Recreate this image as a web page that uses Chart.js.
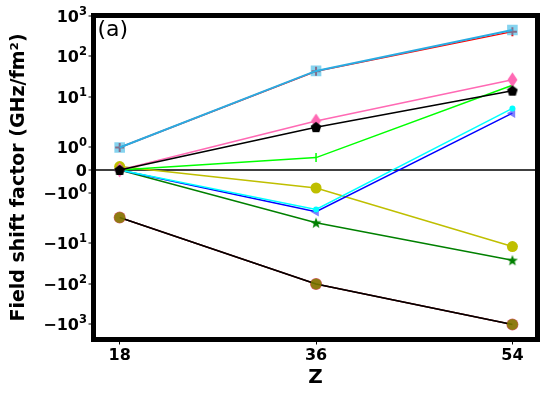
<!DOCTYPE html>
<html lang="en">
<head>
  <meta charset="UTF-8" />
  <title>Field shift factor vs Z</title>
  <script src="https://cdn.jsdelivr.net/npm/chart.js"></script>
  <style>
    body {
      margin: 0;
      background: #fff;
    }
    canvas {
      display: block;
    }
  </style>
</head>
<body>
  <canvas id="chartFsf" width="546" height="395"></canvas>

  <script>
    // Data
    const zValues = [18, 36, 54];
    const redSeries = [1, 42, 400];
    const skyBlueSeries = [1, 43, 440];
    const pinkSeries = [0, 2.5, 26];
    const blackSeries = [0, 1.9, 14];
    const limeSeries = [0, 0.55, 19];
    const cyanSeries = [0, -1.75, 5.1];
    const blueSeries = [0, -1.85, 3.9];
    const oliveSeries = [0.15, -0.8, -12];
    const greenSeries = [0, -3.1, -26];
    const maroonSeries = [-2.3, -100, -1000];
    const darkSeries = [-2.3, -100, -1000];

    // tick labels: base text + exponent
    const yTickValues = [-1000, -100, -10, -1, 0, 1, 10, 100, 1000];
    const yTickBases = ['\u221210', '\u221210', '\u221210', '\u221210', '0', '10', '10', '10', '10'];
    const yTickExps = ['3', '2', '1', '0', '', '0', '1', '2', '3'];

    // symlog transform (linthresh 2, linscale 1)
    const LINTHRESH = 2;
    const LINSCALE = 1 / (1 - 1 / 10);
    function symlog(v) {
      const a = Math.abs(v);
      if (a <= LINTHRESH) return v * LINSCALE;
      return Math.sign(v) * LINTHRESH * (LINSCALE + Math.log10(a / LINTHRESH));
    }
    function symexp(t) {
      const a = Math.abs(t);
      if (a <= LINTHRESH * LINSCALE) return t / LINSCALE;
      return Math.sign(t) * LINTHRESH * Math.pow(10, a / LINTHRESH - LINSCALE);
    }

    class SymLogScale extends Chart.LinearScale {
      buildTicks() {
        return yTickValues.map(v => ({ value: v }));
      }
      getPixelForValue(value) {
        const a = symlog(this.min), b = symlog(this.max);
        return this.getPixelForDecimal((symlog(value) - a) / (b - a));
      }
      getValueForPixel(pixel) {
        const a = symlog(this.min), b = symlog(this.max);
        return symexp(a + this.getDecimalForPixel(pixel) * (b - a));
      }
    }
    SymLogScale.id = 'symlog';
    SymLogScale.defaults = Chart.LinearScale.defaults;
    Chart.register(SymLogScale);

    // marker images
    function markerCanvas(w, h, draw) {
      const c = document.createElement('canvas');
      c.width = w; c.height = h;
      draw(c.getContext('2d'));
      return c;
    }
    const pentagon = markerCanvas(12, 12, g => {
      g.fillStyle = '#000';
      g.beginPath();
      for (let i = 0; i < 5; i++) {
        const ang = -Math.PI / 2 + i * 2 * Math.PI / 5;
        g.lineTo(6 + 5.6 * Math.cos(ang), 6.4 + 5.6 * Math.sin(ang));
      }
      g.closePath();
      g.fill();
    });
    const thinDiamond = markerCanvas(11, 16, g => {
      g.fillStyle = '#ff69b4';
      g.beginPath();
      g.moveTo(5.5, 0.5); g.lineTo(10.5, 8); g.lineTo(5.5, 15.5); g.lineTo(0.5, 8);
      g.closePath();
      g.fill();
    });
    const star = markerCanvas(12, 12, g => {
      g.fillStyle = '#008000';
      g.beginPath();
      for (let i = 0; i < 10; i++) {
        const r = i % 2 ? 2.4 : 5.8;
        const ang = -Math.PI / 2 + i * Math.PI / 5;
        g.lineTo(6 + r * Math.cos(ang), 6.5 + r * Math.sin(ang));
      }
      g.closePath();
      g.fill();
    });

    function series(data, color, extra) {
      return Object.assign({
        data: data,
        borderColor: color,
        backgroundColor: color,
        borderWidth: 1.5,
        pointRadius: 5,
        pointBorderWidth: 0,
        tension: 0
      }, extra);
    }

    // frame, panel tag and y tick labels with raised exponents
    const framePlugin = {
      id: 'frame',
      afterDatasetsDraw(chart) {
        const { ctx, chartArea: a } = chart;
        ctx.save();
        ctx.lineWidth = 5;
        ctx.strokeStyle = '#000';
        ctx.strokeRect(a.left, a.top, a.right - a.left, a.bottom - a.top);
        ctx.fillStyle = '#000';
        ctx.font = '22px "DejaVu Sans"';
        ctx.textBaseline = 'middle';
        ctx.fillText('(a)', a.left + 4, a.top + 15);
        ctx.restore();
      },
      afterDraw(chart) {
        const { ctx } = chart;
        const yScale = chart.scales.y;
        const right = 87;
        ctx.save();
        ctx.fillStyle = '#000';
        ctx.textBaseline = 'alphabetic';
        ctx.textAlign = 'left';
        yTickValues.forEach((v, i) => {
          const py = yScale.getPixelForValue(v);
          const base = yTickBases[i], exp = yTickExps[i];
          ctx.font = 'bold 16px "DejaVu Sans"';
          const bw = ctx.measureText(base).width;
          ctx.font = 'bold 11.5px "DejaVu Sans"';
          const ew = exp ? ctx.measureText(exp).width : 0;
          const x0 = right - bw - ew;
          const baseY = py + 6;
          ctx.font = 'bold 16px "DejaVu Sans"';
          ctx.fillText(base, x0, baseY);
          if (exp) {
            ctx.font = 'bold 11.5px "DejaVu Sans"';
            ctx.fillText(exp, x0 + bw, baseY - 7);
          }
        });
        ctx.restore();
      }
    };

    const tickFont = { family: 'DejaVu Sans', size: 16, weight: 'bold' };

    new Chart(document.getElementById('chartFsf'), {
      type: 'line',
      data: {
        labels: zValues,
        datasets: [
          series(maroonSeries, '#800000', { order: 11, pointBackgroundColor: '#e0607a', pointRadius: 6 }),
          series(darkSeries, '#000', { order: 10, pointBackgroundColor: 'rgba(128,128,0,0.85)', pointRadius: 5.5 }),
          series(greenSeries, '#008000', { order: 9, pointStyle: star }),
          series(oliveSeries, '#bfbf00', { order: 8, pointRadius: 5.5 }),
          series(blueSeries, '#0000ff', { order: 7, pointStyle: 'triangle', rotation: -90, pointRadius: 5.5, pointBackgroundColor: 'rgba(60,60,255,0.65)' }),
          series(cyanSeries, '#00ffff', { order: 6, pointRadius: 3 }),
          series(limeSeries, '#00ff00', { order: 5, pointStyle: 'line', rotation: 90, pointRadius: 4.5, pointBorderWidth: 1.5 }),
          series(redSeries, '#ff0000', { order: 4, pointStyle: 'cross', pointRadius: 4.5, pointBorderWidth: 2 }),
          series(skyBlueSeries, '#29abe2', { order: 3, borderWidth: 2, pointStyle: 'rect', pointRadius: 7.5, pointBackgroundColor: 'rgba(51,181,229,0.6)' }),
          series(pinkSeries, '#ff69b4', { order: 2, pointStyle: thinDiamond }),
          series(blackSeries, '#000', { order: 1, pointStyle: pentagon })
        ]
      },
      options: {
        responsive: false,
        animation: false,
        layout: { padding: { top: 15.5, right: 8.5, left: 0, bottom: 0 } },
        plugins: {
          legend: { display: false },
          tooltip: { enabled: false }
        },
        scales: {
          x: {
            type: 'linear',
            min: 15.6,
            max: 56.3,
            afterBuildTicks: s => { s.ticks = zValues.map(v => ({ value: v })); },
            afterFit: s => { s.height = 55.5; },
            border: { display: false },
            grid: { drawOnChartArea: false, tickLength: 5, tickColor: '#000', tickWidth: 1 },
            ticks: { font: tickFont, color: '#000', padding: 2, autoSkip: false, maxRotation: 0 },
            title: { display: true, text: 'Z', color: '#000', font: { family: 'DejaVu Sans', size: 20, weight: 'bold' }, padding: { top: 0, bottom: 5 } }
          },
          y: {
            type: 'symlog',
            min: -2350,
            max: 1000,
            afterFit: s => { s.width = 93.5; },
            border: { display: false },
            grid: {
              color: c => (c.tick && c.tick.value === 0 ? '#404040' : 'rgba(0,0,0,0)'),
              lineWidth: 2,
              tickColor: '#000',
              tickWidth: 1,
              tickLength: 5
            },
            // labels drawn by the frame plugin so exponents can be raised
            ticks: { display: false, autoSkip: false },
            title: { display: true, text: 'Field shift factor (GHz/fm\u00b2)', color: '#000', font: { family: 'DejaVu Sans', size: 19, weight: 'bold' }, padding: { top: 8, bottom: 0 } }
          }
        }
      },
      plugins: [framePlugin]
    });
  </script>
</body>
</html>
